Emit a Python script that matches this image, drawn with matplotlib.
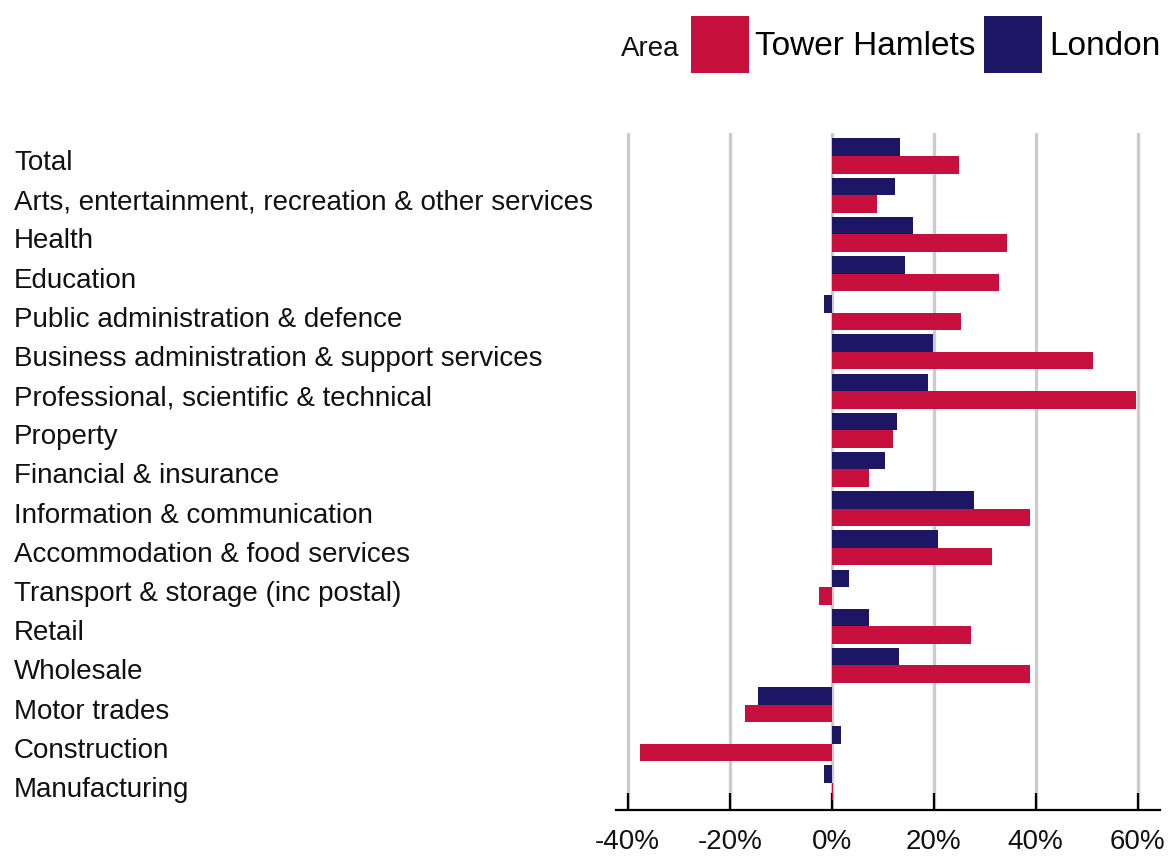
import matplotlib
matplotlib.use("Agg")
import matplotlib.pyplot as plt
import matplotlib.transforms as mtransforms
import numpy as np

categories = [
    "Total",
    "Arts, entertainment, recreation & other services",
    "Health",
    "Education",
    "Public administration & defence",
    "Business administration & support services",
    "Professional, scientific & technical",
    "Property",
    "Financial & insurance",
    "Information & communication",
    "Accommodation & food services",
    "Transport & storage (inc postal)",
    "Retail",
    "Wholesale",
    "Motor trades",
    "Construction",
    "Manufacturing",
]
tower_hamlets = [24.9, 8.9, 34.4, 32.9, 25.3, 51.2, 59.6, 12.0, 7.4, 38.9,
                 31.4, -2.5, 27.3, 38.9, -17.0, -37.5, 0.3]
london = [13.4, 12.4, 15.9, 14.4, -1.5, 19.9, 18.9, 12.9, 10.4, 27.9,
          20.8, 3.4, 7.4, 13.3, -14.5, 1.8, -1.6]
x_ticks = [-40, -20, 0, 20, 40, 60]
x_tick_labels = ["-40%", "-20%", "0%", "20%", "40%", "60%"]
series_names = ["Tower Hamlets", "London"]
legend_title = "Area"

RED = "#C8103E"
NAVY = "#1C1664"

plt.rcParams['font.family'] = ['Liberation Sans', 'DejaVu Sans']

fig = plt.figure(figsize=(11.68, 8.57), dpi=100)
ax = fig.add_axes([616/1168, 1-810/857, (1160-616)/1168, (810-133)/857])

y = np.arange(len(categories))
h = 0.447
b_lon = ax.barh(y - h/2, london, height=h, color=NAVY, zorder=3)
b_th = ax.barh(y + h/2, tower_hamlets, height=h, color=RED, zorder=3)

ax.set_xlim(-42.3, 64.4)
ax.set_ylim(len(categories) - 1 + 0.69, -0.587)

ax.set_xticks(x_ticks)
ax.set_xticklabels(x_tick_labels, fontsize=20, color="#111111")
for xv in x_ticks:
    ax.axvline(xv, color="#CCCCCC", lw=2.4, zorder=1)

ax.set_yticks(y)
ax.set_yticklabels(categories, fontsize=20, color="#111111", ha="left")
ax.tick_params(axis="y", length=0, pad=(616-14)*0.72)
ax.tick_params(axis="x", direction="in", length=12, width=1.6, color="black", pad=14)

shift = mtransforms.ScaledTranslation(0, -4/100, fig.dpi_scale_trans)
for lab in ax.get_yticklabels():
    lab.set_transform(lab.get_transform() + shift)

for s in ["top", "right", "left"]:
    ax.spines[s].set_visible(False)
ax.spines["bottom"].set_linewidth(1.6)
ax.spines["bottom"].set_color("black")

fig.text(621/1168, 1-49/857, legend_title, fontsize=20, color="#111111", va="center", ha="left")
leg = fig.legend([b_th, b_lon], series_names, loc="upper right",
                 bbox_to_anchor=(1160/1168, 1-16/857), ncol=2, frameon=False,
                 fontsize=24, handlelength=1.74, handleheight=2.26,
                 handletextpad=0.2, columnspacing=0.25, borderpad=0,
                 borderaxespad=0)

fig.savefig("out.png", dpi=100, facecolor="white")
